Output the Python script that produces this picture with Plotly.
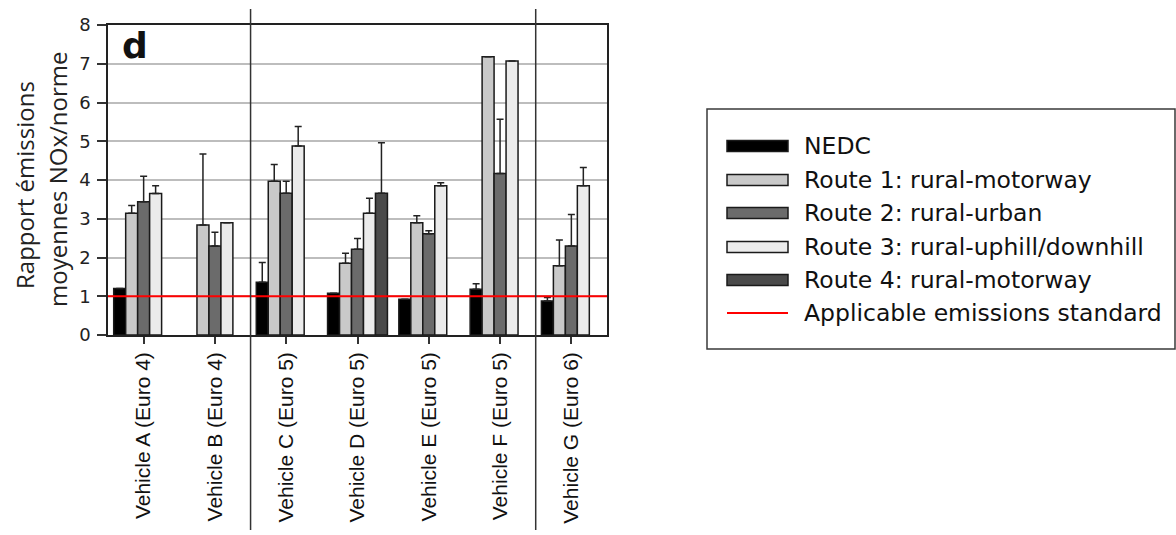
import plotly.graph_objects as go

# Vehicles tested and their emission class
vehicles = ["Vehicle A (Euro 4)", "Vehicle B (Euro 4)", "Vehicle C (Euro 5)",
            "Vehicle D (Euro 5)", "Vehicle E (Euro 5)", "Vehicle F (Euro 5)",
            "Vehicle G (Euro 6)"]

series_names = ["NEDC", "Route 1: rural-motorway", "Route 2: rural-urban",
                "Route 3: rural-uphill/downhill", "Route 4: rural-motorway"]

# Mean NOx emissions / emission standard ratio
nedc = [1.20, None, 1.36, 1.08, 0.92, 1.18, 0.88]
route1 = [3.14, 2.84, 3.97, 1.85, 2.90, 7.18, 1.79]
route2 = [3.44, 2.30, 3.66, 2.21, 2.61, 4.17, 2.30]
route3 = [3.65, 2.90, 4.88, 3.14, 3.85, 7.07, 3.85]
route4 = [None, None, None, 3.66, None, None, None]

# Upper error (added on top of the mean)
nedc_err = [None, None, 0.51, None, None, 0.14, 0.09]
route1_err = [0.20, 1.83, 0.43, 0.26, 0.18, None, 0.66]
route2_err = [0.66, 0.35, 0.31, 0.28, 0.08, 1.40, 0.81]
route3_err = [0.20, None, 0.50, 0.39, 0.08, None, 0.47]
route4_err = [None, None, None, 1.30, None, None, None]

standard_level = 1.0
standard_name = "Applicable emissions standard"

y_ticks = [0, 1, 2, 3, 4, 5, 6, 7, 8]

values = [nedc, route1, route2, route3, route4]
errors = [nedc_err, route1_err, route2_err, route3_err, route4_err]
fills = ["#000000", "#c9c9c9", "#6b6b6b", "#ebebeb", "#4a4a4a"]

W, H = 1176, 535
ML, MR, MT, MB = 108, 569, 25, 200
PW, PH = W - ML - MR, H - MT - MB


def px_x(p):
    return (p - ML) / PW


def px_y(p):
    return (H - MB - p) / PH


fig = go.Figure()
for name, vals, errs, col in zip(series_names, values, errors, fills):
    fig.add_trace(go.Bar(
        x=vehicles, y=vals, name=name,
        marker=dict(color=col, line=dict(color="#1a1a1a", width=1.5)),
        error_y=dict(type="data", symmetric=False, array=errs,
                     arrayminus=[0] * len(errs), color="#222222",
                     thickness=1.5, width=3.5),
        showlegend=False,
    ))

shapes = []
# emission standard line
shapes.append(dict(type="line", xref="paper", yref="y", x0=0, x1=1,
                   y0=standard_level, y1=standard_level,
                   line=dict(color="#ff0000", width=2), layer="above"))
# separators between Euro classes
for xs in (1.5, 5.5):
    shapes.append(dict(type="line", xref="x", yref="paper", x0=xs, x1=xs,
                       y0=px_y(530), y1=px_y(9),
                       line=dict(color="#333333", width=1.5), layer="above"))

annotations = [
    dict(text="<b>d</b>", xref="paper", yref="paper", x=px_x(135), y=px_y(45),
         showarrow=False, font=dict(family="DejaVu Sans", size=36, color="#111"),
         xanchor="center", yanchor="middle"),
    dict(text="Rapport émissions", xref="paper", yref="paper",
         x=px_x(24), y=px_y(185), textangle=-90, showarrow=False,
         font=dict(family="Open Sans", size=24, color="#222"),
         xanchor="center", yanchor="middle"),
    dict(text="moyennes NOx/norme", xref="paper", yref="paper",
         x=px_x(57), y=px_y(179), textangle=-90, showarrow=False,
         font=dict(family="Open Sans", size=24, color="#222"),
         xanchor="center", yanchor="middle"),
]

# legend box
lx0, lx1, ly0, ly1 = 707, 1175, 109, 349
shapes.append(dict(type="rect", xref="paper", yref="paper",
                   x0=px_x(lx0), x1=px_x(lx1), y0=px_y(ly1), y1=px_y(ly0),
                   line=dict(color="#3a3a3a", width=1.5), fillcolor="white",
                   layer="above"))
row_y = [146, 180, 213, 247, 280, 313]
sw_x0, sw_x1, text_x = 727, 788, 802
for i, (name, col) in enumerate(zip(series_names, fills)):
    cy = row_y[i]
    shapes.append(dict(type="rect", xref="paper", yref="paper",
                       x0=px_x(sw_x0), x1=px_x(sw_x1),
                       y0=px_y(cy + 5.5), y1=px_y(cy - 5.5),
                       line=dict(color="#1a1a1a", width=1.5), fillcolor=col,
                       layer="above"))
    annotations.append(dict(text=name, xref="paper", yref="paper",
                            x=px_x(text_x), y=px_y(cy), showarrow=False,
                            xanchor="left", yanchor="middle",
                            font=dict(family="DejaVu Sans", size=23.5, color="#111")))
cy = row_y[5]
shapes.append(dict(type="line", xref="paper", yref="paper",
                   x0=px_x(sw_x0), x1=px_x(sw_x1), y0=px_y(cy), y1=px_y(cy),
                   line=dict(color="#ff0000", width=2), layer="above"))
annotations.append(dict(text=standard_name, xref="paper", yref="paper",
                        x=px_x(text_x), y=px_y(cy), showarrow=False,
                        xanchor="left", yanchor="middle",
                        font=dict(family="DejaVu Sans", size=23.5, color="#111")))

fig.update_layout(
    width=W, height=H,
    margin=dict(l=ML, r=MR, t=MT, b=MB, pad=0),
    paper_bgcolor="white", plot_bgcolor="white",
    barmode="group", bargap=0.16, bargroupgap=0,
    shapes=shapes, annotations=annotations,
    xaxis=dict(type="category", range=[-0.5, 6.5], tickangle=-90,
               ticks="outside", ticklen=7, tickwidth=1.5, tickcolor="#333",
               tickfont=dict(family="Liberation Sans", size=21, color="#111"),
               showline=True, linecolor="#222", linewidth=1.5, mirror=True,
               showgrid=False, fixedrange=True),
    yaxis=dict(range=[0, 8], tickvals=y_ticks, ticks="outside", ticklen=9,
               tickwidth=1.5, tickcolor="#333",
               tickfont=dict(family="DejaVu Sans", size=18, color="#222"),
               ticklabelstandoff=3,
               showline=True, linecolor="#222", linewidth=1.5, mirror=True,
               showgrid=True, gridcolor="#bdbdbd", gridwidth=2,
               zeroline=False, fixedrange=True),
)

fig.write_html("out.html")
